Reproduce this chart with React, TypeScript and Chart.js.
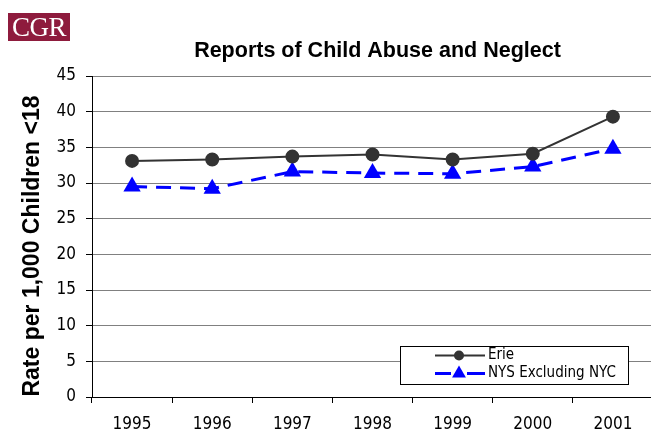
import React, { useEffect, useRef } from "react";
import { Chart, registerables } from "chart.js";

Chart.register(...registerables);

const years = ["1995", "1996", "1997", "1998", "1999", "2000", "2001"];
const erie = [33.1, 33.3, 33.7, 34.0, 33.3, 34.1, 39.3];
const nys = [29.5, 29.2, 31.6, 31.4, 31.3, 32.3, 34.8];
const seriesNames = ["Erie", "NYS Excluding NYC"];
const chartTitle = "Reports of Child Abuse and Neglect";
const yTitle = "Rate per 1,000 Children <18";

const TICK_FONT = "'DejaVu Sans Condensed', 'DejaVu Sans', sans-serif";
const BOLD_FONT = "'Liberation Sans', Arial, sans-serif";

const W = 670;
const H = 432;

function drawMarker(ctx: CanvasRenderingContext2D, style: string, x: number, y: number, r: number, color: string) {
  ctx.save();
  ctx.fillStyle = color;
  ctx.beginPath();
  if (style === "circle") {
    ctx.arc(x, y, r, 0, Math.PI * 2);
  } else {
    const rad0 = -Math.PI / 2;
    for (let i = 0; i < 3; i++) {
      const a = rad0 + (i * 2 * Math.PI) / 3;
      const px = x + Math.cos(a) * r;
      const py = y + Math.sin(a) * r;
      if (i === 0) ctx.moveTo(px, py);
      else ctx.lineTo(px, py);
    }
    ctx.closePath();
  }
  ctx.fill();
  ctx.restore();
}

const decorPlugin = {
  id: "decor",
  afterDraw(chart: any) {
    const ctx: CanvasRenderingContext2D = chart.ctx;
    ctx.save();
    // title
    ctx.fillStyle = "#000";
    ctx.font = `bold 21.5px ${BOLD_FONT}`;
    ctx.textAlign = "center";
    ctx.textBaseline = "middle";
    ctx.fillText(chartTitle, 377.5, 51);
    // y title
    ctx.save();
    ctx.translate(33, 246);
    ctx.rotate(-Math.PI / 2);
    ctx.font = `bold 23px ${BOLD_FONT}`;
    ctx.fillText(yTitle, 0, 0);
    ctx.restore();
    // legend
    const bx = 400.5, by = 346.5, bw = 228, bh = 38;
    ctx.fillStyle = "#fff";
    ctx.fillRect(bx, by, bw, bh);
    ctx.strokeStyle = "#000";
    ctx.lineWidth = 1;
    ctx.strokeRect(bx, by, bw, bh);
    const ds = chart.data.datasets;
    const rows = [355.5, 373.5];
    ds.forEach((d: any, i: number) => {
      const y = rows[i];
      ctx.save();
      ctx.strokeStyle = d.borderColor;
      ctx.lineWidth = d.borderWidth;
      ctx.beginPath();
      if (d.borderDash) {
        ctx.moveTo(435, y);
        ctx.lineTo(451, y);
        ctx.moveTo(467, y);
        ctx.lineTo(485, y);
      } else {
        ctx.moveTo(435, y);
        ctx.lineTo(485, y);
      }
      ctx.stroke();
      ctx.restore();
      drawMarker(ctx, d.pointStyle, 459, y, i === 0 ? 5 : 8, d.pointBackgroundColor);
      ctx.fillStyle = "#000";
      ctx.font = `15px ${TICK_FONT}`;
      ctx.textAlign = "left";
      ctx.textBaseline = "middle";
      ctx.fillText(d.label, 488, y);
    });
    ctx.restore();
  },
};

export default function App() {
  const ref = useRef<HTMLCanvasElement>(null);
  useEffect(() => {
    const canvas = ref.current!;
    const chart = new Chart(canvas, {
      type: "line",
      data: {
        labels: years,
        datasets: [
          {
            label: seriesNames[0],
            data: erie,
            borderColor: "#333333",
            backgroundColor: "#333333",
            pointBackgroundColor: "#333333",
            pointBorderColor: "#333333",
            borderWidth: 2,
            pointRadius: 6,
            pointStyle: "circle",
            tension: 0,
          },
          {
            label: seriesNames[1],
            data: nys,
            borderColor: "#0000ff",
            backgroundColor: "#0000ff",
            pointBackgroundColor: "#0000ff",
            pointBorderColor: "#0000ff",
            borderWidth: 3,
            borderDash: [15, 9],
            pointRadius: 10,
            pointBorderWidth: 0,
            pointStyle: "triangle",
            tension: 0,
          },
        ],
      },
      options: {
        responsive: false,
        animation: false,
        layout: { padding: { left: 0, right: W - 653, top: 76, bottom: 0 } },
        plugins: {
          legend: { display: false },
          title: { display: false },
          tooltip: { enabled: false },
        },
        scales: {
          x: {
            offset: true,
            grid: {
              display: true,
              offset: true,
              drawOnChartArea: false,
              drawTicks: true,
              tickLength: 6,
              tickColor: "#000",
            },
            border: { display: true, color: "#000", width: 1 },
            ticks: {
              color: "#000",
              font: { family: TICK_FONT, size: 17 },
              padding: 11,
              maxRotation: 0,
              autoSkip: false,
            },
            afterFit: (s: any) => {
              s.height = H - 397;
            },
          },
          y: {
            min: 0,
            max: 45,
            ticks: {
              stepSize: 5,
              color: "#000",
              font: { family: TICK_FONT, size: 17 },
              padding: 10,
            },
            grid: {
              color: "#808080",
              lineWidth: 1,
              tickLength: 6,
              tickColor: "#000",
            },
            border: { display: true, color: "#000", width: 1 },
            afterFit: (s: any) => {
              s.width = 92;
            },
          },
        },
      },
      plugins: [decorPlugin],
    });
    return () => chart.destroy();
  }, []);

  return (
    <div
      style={{
        position: "fixed",
        left: 0,
        top: 0,
        width: 651,
        height: 432,
        overflow: "hidden",
        background: "#fff",
      }}
    >
      <canvas ref={ref} width={W} height={H} style={{ width: W, height: H, display: "block" }} />
      <div
        style={{
          position: "absolute",
          left: 8,
          top: 13,
          width: 62,
          height: 28,
          background: "#8e1b3d",
          color: "#fff",
          fontFamily: "'Liberation Serif', 'Times New Roman', serif",
          fontSize: 27,
          lineHeight: "28px",
          textAlign: "center",
          letterSpacing: -0.5,
        }}
      >
        CGR
      </div>
    </div>
  );
}
